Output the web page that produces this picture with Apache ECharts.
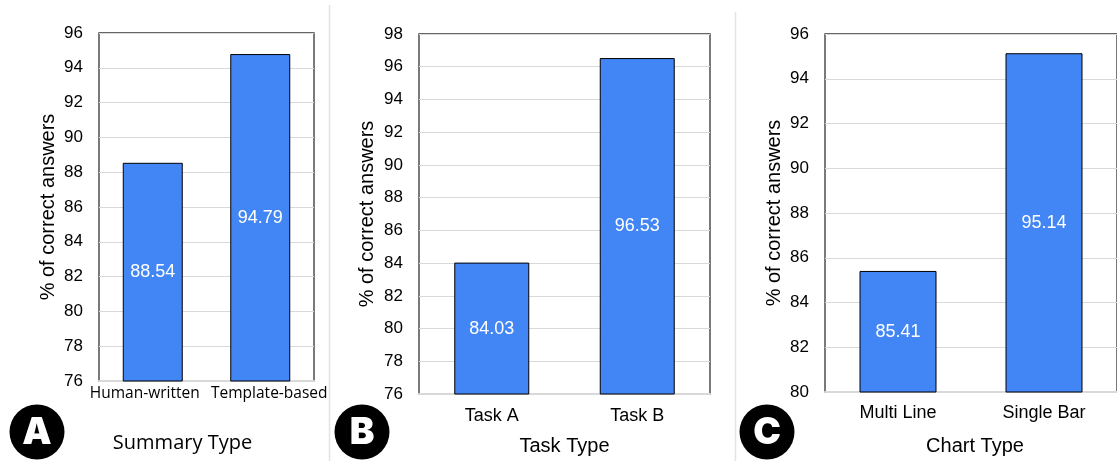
<!DOCTYPE html>
<html>
<head>
<meta charset="utf-8">
<script src="https://cdn.jsdelivr.net/npm/echarts@6/dist/echarts.min.js"></script>
<style>
html,body{margin:0;padding:0;background:#fff;}
#chart{width:1117px;height:461px;}
</style>
</head>
<body>
<div id="chart"></div>
<script>
// Panel A
const catsA = ['Human-written', 'Template-based'];
const valsA = [88.54, 94.79];
// Panel B
const catsB = ['Task A', 'Task B'];
const valsB = [84.03, 96.53];
// Panel C
const catsC = ['Multi Line', 'Single Bar'];
const valsC = [85.41, 95.14];

const axisTitles = ['Summary Type', 'Task Type', 'Chart Type'];
const yTitle = '% of correct answers';
const panelLetters = ['A', 'B', 'C'];

const chart = echarts.init(document.getElementById('chart'), null, {renderer: 'canvas'});

const AR = 'Liberation Sans, Arial, sans-serif';
const OS = '"Open Sans", sans-serif';
const BLUE = '#4285F4';

function yAxis(idx, min, max, gap) {
  return {
    gridIndex: idx, type: 'value', min: min, max: max, interval: 2,
    name: yTitle, nameLocation: 'middle', nameGap: gap, nameRotate: 90,
    nameTextStyle: {fontFamily: AR, fontSize: 20, color: '#000'},
    axisLine: {show: false}, axisTick: {show: false},
    axisLabel: {fontFamily: AR, fontSize: 17, color: '#000', margin: 16},
    splitLine: {show: true, lineStyle: {color: '#d9d9d9', width: 1}}
  };
}
function xAxis(idx, cats, font, fsize, nfont, nsize, margin, gap, namePad) {
  return {
    gridIndex: idx, type: 'category', data: cats,
    name: axisTitles[idx], nameLocation: 'middle', nameGap: gap,
    nameTextStyle: {fontFamily: nfont, fontSize: nsize, color: '#000', padding: namePad || 0},
    axisLine: {show: true, lineStyle: {color: '#d9d9d9', width: 2}},
    axisTick: {show: false},
    axisLabel: {fontFamily: font, fontSize: fsize, color: '#000', margin: margin, interval: 0}
  };
}
function barSeries(idx, vals, bw) {
  return {
    type: 'bar', xAxisIndex: idx, yAxisIndex: idx, data: vals, barWidth: bw,
    itemStyle: {color: BLUE, borderColor: '#000', borderWidth: 1},
    label: {show: true, position: 'inside', color: '#fff', fontFamily: AR, fontSize: 18,
      formatter: p => p.value.toFixed(2)}
  };
}

// panel A category labels are spread apart slightly (as in the source)
const catsAItems = catsA.map((c, i) => ({
  value: c,
  textStyle: {padding: i === 0 ? [0, 16, 0, 0] : [0, 0, 0, 18]}
}));

const circles = [[37, 432], [362, 432], [767, 432]];
const graphics = [];
circles.forEach((c, i) => {
  graphics.push({type: 'circle', shape: {cx: c[0], cy: c[1], r: 27.5}, style: {fill: '#000'}, z: 10});
  graphics.push({type: 'text', x: c[0], y: c[1] + 1, z: 11,
    style: {text: panelLetters[i], fill: '#fff', font: '900 37px Inter, "DejaVu Sans", sans-serif',
      textAlign: 'center', textVerticalAlign: 'middle'}});
});
graphics.push({type: 'line', shape: {x1: 329.5, y1: 5, x2: 329.5, y2: 461}, style: {stroke: '#e3e3e3', lineWidth: 1.5}});
graphics.push({type: 'line', shape: {x1: 735.5, y1: 12, x2: 735.5, y2: 461}, style: {stroke: '#e3e3e3', lineWidth: 1.5}});

const gridStyle = {show: true, borderColor: '#333', borderWidth: 1.3, backgroundColor: 'transparent'};

chart.setOption({
  animation: false,
  grid: [
    Object.assign({left: 99, top: 33, width: 215, height: 348}, gridStyle),
    Object.assign({left: 419, top: 34, width: 291, height: 360}, gridStyle),
    Object.assign({left: 825, top: 34, width: 302, height: 363}, gridStyle)
  ],
  xAxis: [
    xAxis(0, catsAItems, OS, 15.5, OS, 20, 5, 52, [0, 48, 0, 0]),
    xAxis(1, catsB, AR, 18, AR, 20, 13, 42),
    xAxis(2, catsC, AR, 18, AR, 20, 12, 44, [0, 0, 0, 8])
  ],
  yAxis: [
    yAxis(0, 76, 96, 41),
    yAxis(1, 76, 98, 42),
    yAxis(2, 80, 96, 41)
  ],
  series: [
    barSeries(0, valsA, 60),
    barSeries(1, valsB, 75),
    barSeries(2, valsC, 77)
  ],
  graphic: graphics
});
</script>
</body>
</html>
